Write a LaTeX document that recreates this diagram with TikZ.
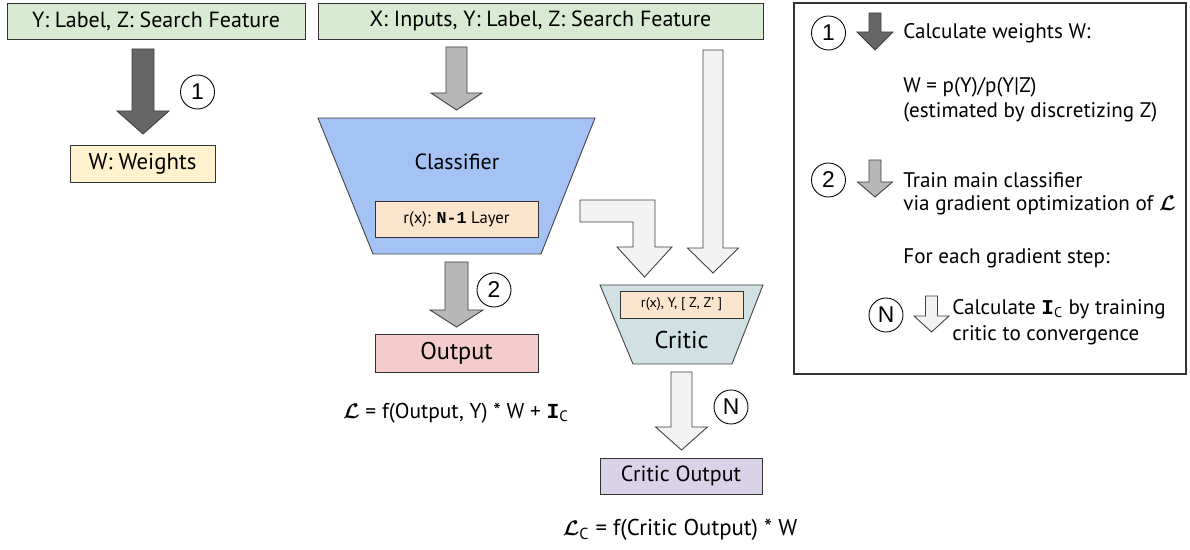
\documentclass[tikz,border=0pt]{standalone}
\usepackage{amsmath,bm}
\usepackage{fontspec}
\setmainfont{PT Sans}
\setmonofont{Liberation Mono}
\newfontfamily\circfont{Liberation Sans}
\usetikzlibrary{positioning,calc}
\definecolor{inpgreen}{HTML}{D9EAD3}
\definecolor{wtsyellow}{HTML}{FFF2CC}
\definecolor{clsblue}{HTML}{A4C2F4}
\definecolor{layerpeach}{HTML}{FCE5CD}
\definecolor{outpink}{HTML}{F4CCCC}
\definecolor{crtcyan}{HTML}{D0E0E3}
\definecolor{coutlilac}{HTML}{D9D2E9}
\definecolor{darkarr}{HTML}{666666}
\definecolor{midarr}{HTML}{B7B7B7}
\definecolor{lightarr}{HTML}{F3F3F3}
% fat down arrow: start, tip, half shaft, half head, head length, fill
\newcommand{\fatdown}[6]{%
  \draw[fill=#6,draw=black!75,line width=0.5pt]
    ($(#1)+(-#3,0)$) -- ($(#1)+(#3,0)$) -- ($(#2)+(#3,-#5)$) -- ($(#2)+(#4,-#5)$)
    -- (#2) -- ($(#2)+(-#4,-#5)$) -- ($(#2)+(-#3,-#5)$) -- cycle;}
\newcommand{\tbI}{\texttt{\textbf{I}}}
\newcommand{\fsz}[1]{\fontsize{#1}{#1}\selectfont}

\begin{document}
\begin{tikzpicture}[
  x=0.02cm, y=-0.02cm,
  box/.style={draw=black!80,line width=0.5pt,inner sep=0pt,font=\fsz{12.5}},
  numcirc/.style={circle,draw=black,line width=0.5pt,minimum size=34*0.02cm,inner sep=0pt,font=\circfont\fsz{13}},
  legtxt/.style={anchor=west,inner sep=0pt,font=\fsz{12}},
  formula/.style={inner sep=0pt}
]
\useasboundingbox (0,0) rectangle (1190,550);

% Input boxes
\node[box,fill=inpgreen,minimum width=298*0.02cm,minimum height=36*0.02cm] (yz) at (156,21) {Y: Label, Z: Search Feature};
\node[box,fill=inpgreen,minimum width=445*0.02cm,minimum height=36*0.02cm] (xyz) at (540.5,21) {X: Inputs, Y: Label, Z: Search Feature};

% Weights
\node[box,fill=wtsyellow,minimum width=145*0.02cm,minimum height=37*0.02cm,font=\fsz{13}] (wts) at (142.5,163.5) {W: Weights};

% Classifier
\draw[fill=clsblue,draw=black!75,line width=0.5pt] (318,118) -- (595,118) -- (541,254) -- (373,254) -- cycle;
\node[inner sep=0pt,font=\fsz{12.5}] (cls) at (457,162) {Classifier};
\node[box,fill=layerpeach,minimum width=163*0.02cm,minimum height=36*0.02cm,font=\fsz{9.5}] (layer) at (456.5,219) {r(x): \texttt{\textbf{N-1}} Layer};

% Output
\node[box,fill=outpink,minimum width=163*0.02cm,minimum height=38*0.02cm,font=\fsz{13.8}] (out) at (456.5,353) {Output};

% Critic
\draw[fill=crtcyan,draw=black!75,line width=0.5pt] (600,285) -- (763,285) -- (732,364) -- (633,364) -- cycle;
\node[box,fill=layerpeach,minimum width=123*0.02cm,minimum height=27*0.02cm,font=\fsz{8}] (crin) at (681.5,304.5) {r(x), Y, [ Z, Z’ ]};
\node[inner sep=0pt,font=\fsz{13.8}] (crt) at (681.5,340) {Critic};

% Critic output
\node[box,fill=coutlilac,minimum width=162*0.02cm,minimum height=36*0.02cm,font=\fsz{12.5}] (cout) at (681,476) {Critic Output};

% Arrow ends
\coordinate (a1s) at (143,49);    \coordinate (a1t) at (143,134);
\coordinate (a2s) at (456.5,47);  \coordinate (a2t) at (456.5,110);
\coordinate (a3s) at (456.5,262); \coordinate (a3t) at (456.5,327);
\coordinate (a4s) at (713,50);    \coordinate (a4t) at (713,273);
\coordinate (a5s) at (681.5,372); \coordinate (a5t) at (681.5,450);

\fatdown{a1s}{a1t}{11}{26}{23}{darkarr}
\fatdown{a2s}{a2t}{10.5}{25.5}{17}{midarr}
\fatdown{a3s}{a3t}{11.5}{26.5}{17}{midarr}
\fatdown{a4s}{a4t}{10}{25.5}{25}{lightarr}
\fatdown{a5s}{a5t}{10.5}{26}{23}{lightarr}

% Bent arrow from classifier to critic
\draw[fill=lightarr,draw=black!75,line width=0.5pt]
  (580,200) -- (655,200) -- (655,247) -- (672,247) -- (644.5,277)
  -- (617,247) -- (633,247) -- (633,222) -- (580,222) -- cycle;

% Step markers
\node[numcirc] (c1) at (197.5,92) {1};
\node[numcirc] (c2) at (494,290) {2};
\node[numcirc] (cN) at (731,407) {N};

% Losses
\node[formula,font=\fsz{12.2}] (loss) at (456,413) {$\boldsymbol{\mathcal{L}}$ = f(Output, Y) * W + \tbI\textsubscript{C}};
\node[formula,font=\fsz{13}] (lossc) at (680,530) {$\boldsymbol{\mathcal{L}}$\textsubscript{C} = f(Critic Output) * W};

% Legend panel
\draw[draw=black!80,line width=0.6pt] (794,3) rectangle (1186,374);
\node[numcirc] (l1) at (828.5,33) {1};
\node[numcirc] (l2) at (828.5,180) {2};
\node[numcirc] (lN) at (886,315) {N};
\coordinate (l1s) at (875,13);    \coordinate (l1t) at (875,50);
\coordinate (l2s) at (875,160);   \coordinate (l2t) at (875,197);
\coordinate (lNs) at (931.5,296); \coordinate (lNt) at (931.5,332);
\fatdown{l1s}{l1t}{6}{18}{18}{darkarr}
\fatdown{l2s}{l2t}{6}{17.5}{15}{midarr}
\fatdown{lNs}{lNt}{6}{17.5}{16}{lightarr}

\node[legtxt] (t1) at (903,33) {Calculate weights W:};
\node[legtxt] (t1a) at (903,87) {W = p(Y)/p(Y|Z)};
\node[legtxt] (t1b) at (903,112) {(estimated by discretizing Z)};
\node[legtxt] (t2) at (903,180) {Train main classifier};
\node[legtxt] (t2a) at (903,205) {via gradient optimization of $\boldsymbol{\mathcal{L}}$};
\node[legtxt] (t3) at (903,258) {For each gradient step:};
\node[legtxt] (tN) at (952,309) {Calculate \tbI\textsubscript{C} by training};
\node[legtxt] (tNa) at (952,335) {critic to convergence};
\end{tikzpicture}
\end{document}
